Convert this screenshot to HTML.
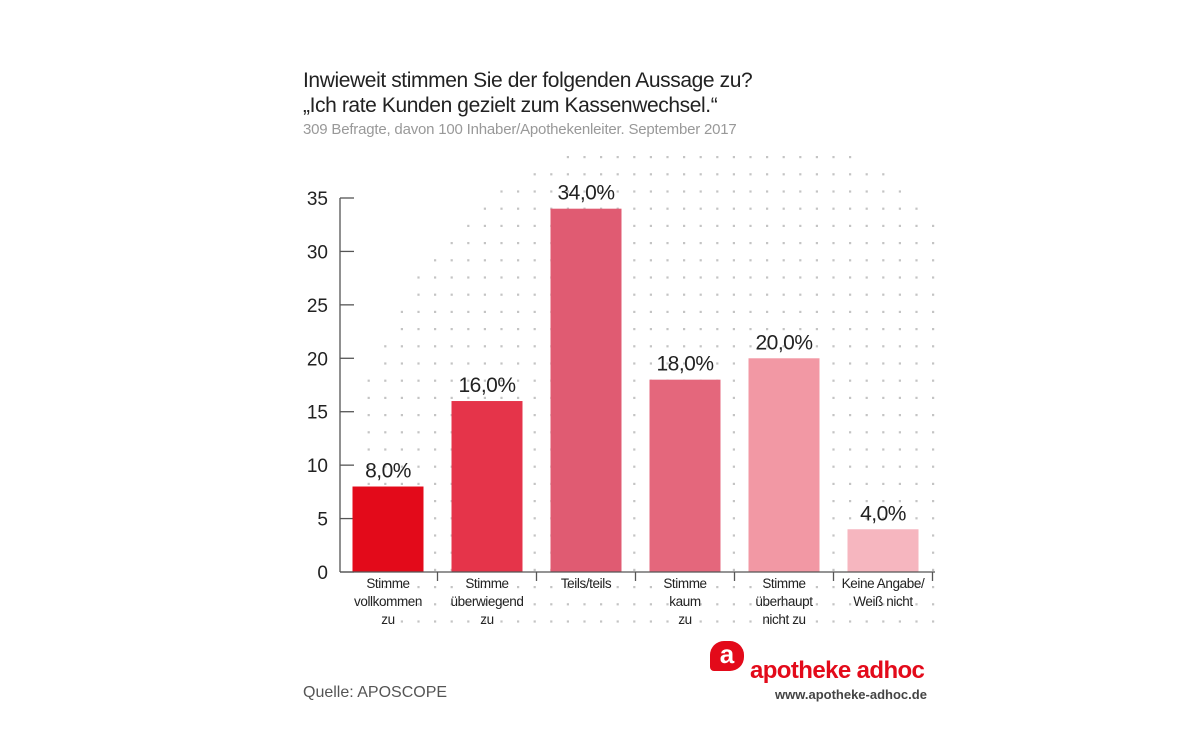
<!DOCTYPE html>
<html><head><meta charset="utf-8">
<style>
body{margin:0;background:#fff;font-family:"Liberation Sans",sans-serif;}
#wrap{position:relative;width:1200px;height:753px;overflow:hidden;}
.t{position:absolute;white-space:nowrap;}
</style></head>
<body>
<div id="wrap">
<div class="t" style="left:303px;top:68px;font-size:21px;color:#222;line-height:25px;letter-spacing:-0.4px">Inwieweit stimmen Sie der folgenden Aussage zu?<br>„Ich rate Kunden gezielt zum Kassenwechsel.“</div>
<div class="t" style="left:303px;top:121px;font-size:15px;color:#999;letter-spacing:-0.2px">309 Befragte, davon 100 Inhaber/Apothekenleiter. September 2017</div>
<svg id="chart" width="1200" height="753" style="position:absolute;left:0;top:0"></svg>
<div class="t" style="left:303px;top:684px;font-size:16px;color:#555">Quelle: APOSCOPE</div>
<div style="position:absolute;left:710px;top:641px;width:34px;height:30px;background:#e30a1a;border-radius:14px 14px 14px 4px;color:#fff;font-weight:bold;font-size:26px;line-height:26px;text-align:center">a</div>
<div class="t" style="left:750px;top:657px;font-size:24px;font-weight:bold;color:#e30a1a;letter-spacing:-0.6px">apotheke adhoc</div>
<div class="t" style="left:775px;top:687px;font-size:13px;font-weight:bold;color:#444">www.apotheke-adhoc.de</div>
</div>
<script>
const categories=[["Stimme","vollkommen","zu"],["Stimme","überwiegend","zu"],["Teils/teils"],["Stimme","kaum","zu"],["Stimme","überhaupt","nicht zu"],["Keine Angabe/","Weiß nicht"]];
const values=[8,16,34,18,20,4];
const valueLabels=["8,0%","16,0%","34,0%","18,0%","20,0%","4,0%"];
const colors=["#e30a1a","#e5344a","#e05b72","#e4677c","#f298a4","#f6b6bf"];
const yTicks=[0,5,10,15,20,25,30,35];
const NS="http://www.w3.org/2000/svg";
const svg=document.getElementById('chart');
const x0=340,x1=935,yBase=572,yTop=198,yMax=35;
const y=v=>yBase-(yBase-yTop)*v/yMax;
const step=99,bw=71;
const xc=i=>388+i*step;
function mk(t,a){const e=document.createElementNS(NS,t);for(const k in a)e.setAttribute(k,a[k]);svg.appendChild(e);return e;}
// dots
const cx=705,cy=475,r=350;
for(let dy=157;dy<=632;dy+=17.2){for(let dx=352;dx<=935;dx+=16.6){
 if((dx-cx)**2+(dy-cy)**2<r*r){const d=mk('rect',{x:dx-1,y:dy-1,width:2.2,height:2.2,fill:'#c4c4c4'});
 
 }}}
// axes
const ya=mk('line',{x1:x0,y1:yTop,x2:x0,y2:yBase,stroke:'#555','stroke-width':1.3});


yTicks.forEach(v=>{
 const tk=mk('line',{x1:x0,y1:y(v),x2:x0+14,y2:y(v),stroke:'#555','stroke-width':1.3});
 
 
 const tl=mk('text',{x:328,y:y(v)+7,'text-anchor':'end','font-size':19,fill:'#222','font-family':'Liberation Sans'});
 tl.textContent=v;
 
 
});
values.forEach((v,i)=>{
 const b=mk('rect',{x:xc(i)-bw/2,y:y(v),width:bw,height:yBase-y(v),fill:colors[i]});
 
 
 const l=mk('text',{x:xc(i),y:y(v)-9,'text-anchor':'middle','font-size':21,fill:'#222','font-family':'Liberation Sans','letter-spacing':'-0.5'});
 l.textContent=valueLabels[i];
 
 
 categories[i].forEach((s,j)=>{
  const c=mk('text',{x:xc(i),y:yBase+16+j*18,'text-anchor':'middle','font-size':13.5,fill:'#222','font-family':'Liberation Sans','letter-spacing':'-0.4'});
  c.textContent=s;
  
  
 });
 const t=mk('line',{x1:xc(i)+step/2,y1:yBase,x2:xc(i)+step/2,y2:yBase+9,stroke:'#555','stroke-width':1.3});
 
 
});
const xa=mk('line',{x1:x0,y1:yBase,x2:x1,y2:yBase,stroke:'#555','stroke-width':1.3});


</script>
</body></html>
